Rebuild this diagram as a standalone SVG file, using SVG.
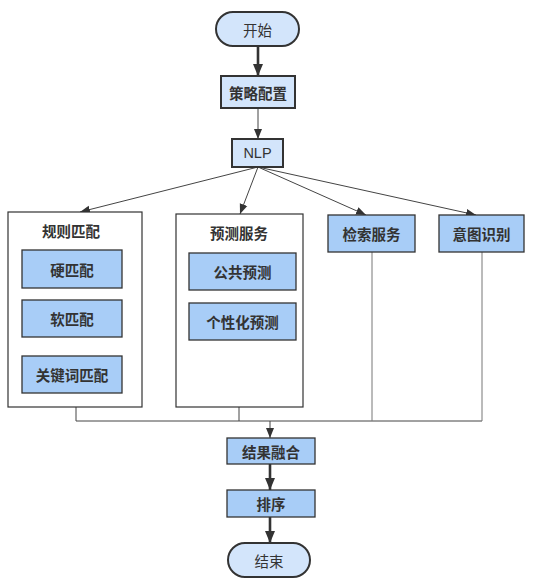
<svg xmlns="http://www.w3.org/2000/svg" width="535" height="584" viewBox="0 0 535 584">
<defs>
<marker id="ah" markerUnits="userSpaceOnUse" markerWidth="12" markerHeight="12" viewBox="0 0 12 12" refX="12" refY="6" orient="auto">
<path d="M0,1 L12,6 L0,11 Z" fill="#333"/>
</marker>
<marker id="ahs" markerUnits="userSpaceOnUse" markerWidth="10" markerHeight="10" viewBox="0 0 10 10" refX="10" refY="5" orient="auto">
<path d="M0,1 L10,5 L0,9 Z" fill="#333"/>
</marker>
</defs>
<style>
text{font-family:"Noto Sans CJK SC","Liberation Sans",sans-serif;fill:#333;text-anchor:middle;dominant-baseline:central;font-size:14.5px}
.b{font-weight:bold}
.light{fill:#d3e5fb;stroke:#333;stroke-width:2}
.mid{fill:#a8cdf7;stroke:#333;stroke-width:1.3}
.cont{fill:#fff;stroke:#333;stroke-width:1.2}
.thin{stroke:#444;stroke-width:1;fill:none}
.grey{stroke:#777;stroke-width:1;fill:none}
.thick{stroke:#333;stroke-width:2.6;fill:none}
</style>
<rect width="535" height="584" fill="#fff"/>
<g id="connectors">
<line class="thick" x1="258" y1="47" x2="258" y2="76" marker-end="url(#ah)"/>
<line class="thin" x1="258" y1="108" x2="258" y2="139" marker-end="url(#ahs)"/>
<line class="thin" x1="258" y1="167" x2="80" y2="212" marker-end="url(#ahs)"/>
<line class="thin" x1="258" y1="167" x2="240" y2="214" marker-end="url(#ahs)"/>
<line class="thin" x1="258" y1="167" x2="366" y2="215" marker-end="url(#ahs)"/>
<line class="thin" x1="258" y1="167" x2="476" y2="215" marker-end="url(#ahs)"/>
<path class="thin" d="M76,407 V421 M239,407 V421 M76,421 H482"/>
<path class="grey" d="M372,252 V421 M482,252 V421"/>
<line class="thin" x1="270" y1="421" x2="270" y2="438" stroke-width="1.4" marker-end="url(#ahs)"/>
<line class="thick" x1="270" y1="464" x2="270" y2="490" marker-end="url(#ah)"/>
<line class="thick" x1="270" y1="517" x2="270" y2="543" marker-end="url(#ah)"/>
</g>
<g id="start">
<rect class="light" x="216" y="12" width="83" height="34" rx="17"/>
<text x="257.5" y="29" font-size="15">开始</text>
</g>
<g id="strategy">
<rect class="light" x="221" y="76" width="74" height="32"/>
<text class="b" x="258" y="92" font-size="13">策略配置</text>
</g>
<g id="nlp">
<rect class="light" x="232" y="139" width="51" height="28"/>
<text x="257.5" y="153" font-size="13" style="font-family:'Liberation Sans',sans-serif">NLP</text>
</g>
<g id="rule">
<rect class="cont" x="8" y="212" width="134" height="195"/>
<text class="b" x="71" y="230">规则匹配</text>
</g>
<g id="hard">
<rect class="mid" x="22" y="250" width="100" height="38"/>
<text class="b" x="72" y="269">硬匹配</text>
</g>
<g id="soft">
<rect class="mid" x="22" y="300" width="100" height="37"/>
<text class="b" x="72" y="318.5">软匹配</text>
</g>
<g id="keyword">
<rect class="mid" x="22" y="356" width="100" height="37"/>
<text class="b" x="72" y="374.5">关键词匹配</text>
</g>
<g id="predict">
<rect class="cont" x="176" y="214" width="127" height="193"/>
<text class="b" x="239" y="232">预测服务</text>
</g>
<g id="public">
<rect class="mid" x="189" y="253" width="107" height="37"/>
<text class="b" x="242.5" y="271.5">公共预测</text>
</g>
<g id="personal">
<rect class="mid" x="189" y="303" width="107" height="37"/>
<text class="b" x="242.5" y="321.5">个性化预测</text>
</g>
<g id="search">
<rect class="mid" x="328" y="215" width="87" height="37"/>
<text class="b" x="371.5" y="233.5">检索服务</text>
</g>
<g id="intent">
<rect class="mid" x="439" y="215" width="85" height="37"/>
<text class="b" x="481.5" y="233.5">意图识别</text>
</g>
<g id="merge">
<rect class="mid" x="227" y="438" width="88" height="26"/>
<text class="b" x="271" y="451">结果融合</text>
</g>
<g id="sort">
<rect class="mid" x="227" y="490" width="88" height="27"/>
<text class="b" x="271" y="503.5">排序</text>
</g>
<g id="end">
<rect class="light" x="228" y="543" width="82" height="34" rx="17"/>
<text x="269" y="560" font-size="15">结束</text>
</g>
</svg>
